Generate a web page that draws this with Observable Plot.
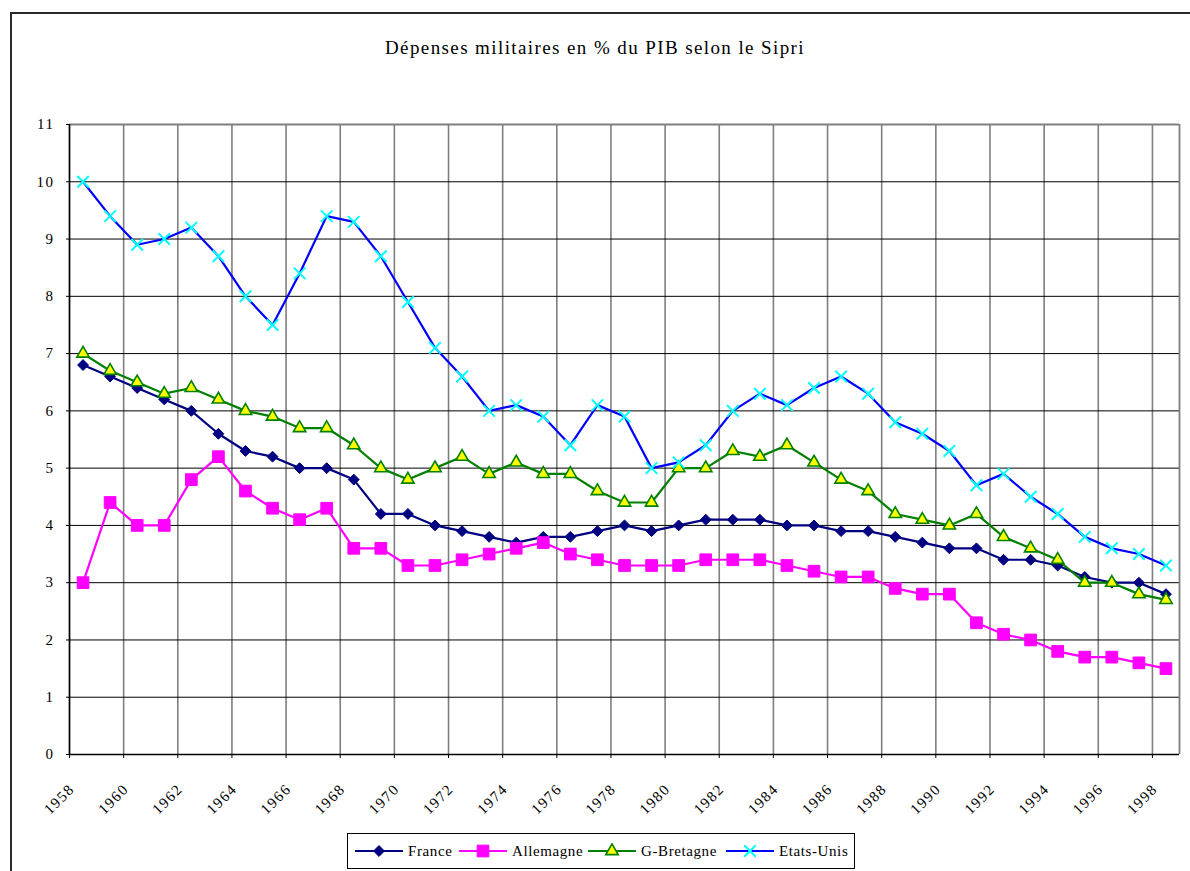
<!DOCTYPE html>
<html>
<head>
<meta charset="utf-8">
<script src="https://cdn.jsdelivr.net/npm/d3@7"></script>
<script src="https://cdn.jsdelivr.net/npm/@observablehq/plot@0.6"></script>
<style>
  html, body { margin: 0; padding: 0; background: #fff; overflow: hidden; }
  #page { position: relative; width: 1190px; height: 871px; overflow: hidden; font-family: "Liberation Serif", "DejaVu Serif", "Times New Roman", Times, serif; }
  #frame { position: absolute; left: 10px; top: 12px; width: 1300px; height: 1000px; border: 2px solid #2a2a2a; box-sizing: border-box; }
  #title { position: absolute; left: 0; width: 1190px; top: 37px; text-align: center; font-size: 19px; letter-spacing: 1.4px; color: #000; }
  #chart { position: absolute; left: 0; top: 0; }
  #legend { position: absolute; left: 347px; top: 833px; width: 508px; height: 36px; border: 1px solid #000; box-sizing: border-box; background: #fff; }
  .item { position: absolute; top: 0; height: 34px; display: flex; align-items: center; font-size: 15px; letter-spacing: 0.6px; color: #000; }
  .item svg { margin-right: 4px; }
</style>
</head>
<body>
<div id="page">
  <div id="frame"></div>
  <div id="title">Dépenses militaires en % du PIB selon le Sipri</div>
  <div id="chart"></div>
  <div id="legend"></div>
</div>
<script>
// ---- data ----
const years = [1958,1959,1960,1961,1962,1963,1964,1965,1966,1967,1968,1969,1970,1971,1972,1973,1974,1975,1976,1977,1978,1979,1980,1981,1982,1983,1984,1985,1986,1987,1988,1989,1990,1991,1992,1993,1994,1995,1996,1997,1998];
const france    = [6.8,6.6,6.4,6.2,6.0,5.6,5.3,5.2,5.0,5.0,4.8,4.2,4.2,4.0,3.9,3.8,3.7,3.8,3.8,3.9,4.0,3.9,4.0,4.1,4.1,4.1,4.0,4.0,3.9,3.9,3.8,3.7,3.6,3.6,3.4,3.4,3.3,3.1,3.0,3.0,2.8];
const allemagne = [3.0,4.4,4.0,4.0,4.8,5.2,4.6,4.3,4.1,4.3,3.6,3.6,3.3,3.3,3.4,3.5,3.6,3.7,3.5,3.4,3.3,3.3,3.3,3.4,3.4,3.4,3.3,3.2,3.1,3.1,2.9,2.8,2.8,2.3,2.1,2.0,1.8,1.7,1.7,1.6,1.5];
const gbretagne = [7.0,6.7,6.5,6.3,6.4,6.2,6.0,5.9,5.7,5.7,5.4,5.0,4.8,5.0,5.2,4.9,5.1,4.9,4.9,4.6,4.4,4.4,5.0,5.0,5.3,5.2,5.4,5.1,4.8,4.6,4.2,4.1,4.0,4.2,3.8,3.6,3.4,3.0,3.0,2.8,2.7];
const etatsUnis = [10.0,9.4,8.9,9.0,9.2,8.7,8.0,7.5,8.4,9.4,9.3,8.7,7.9,7.1,6.6,6.0,6.1,5.9,5.4,6.1,5.9,5.0,5.1,5.4,6.0,6.3,6.1,6.4,6.6,6.3,5.8,5.6,5.3,4.7,4.9,4.5,4.2,3.8,3.6,3.5,3.3];
const seriesNames = ["France", "Allemagne", "G-Bretagne", "Etats-Unis"];
const yTicks = [0,1,2,3,4,5,6,7,8,9,10,11];
const xLabelYears = [1958,1960,1962,1964,1966,1968,1970,1972,1974,1976,1978,1980,1982,1984,1986,1988,1990,1992,1994,1996,1998];

// ---- styles ----
const styles = {
  "France":     {line: "#000080", symbol: "diamond2", r: 4.9, fill: "#000080", stroke: "#000080", sw: 1},
  "Allemagne":  {line: "#FF00FF", symbol: "square",   r: 6.6, fill: "#FF00FF", stroke: "#FF00FF", sw: 1},
  "G-Bretagne": {line: "#008000", symbol: "triangle", r: 4.6, fill: "#FFFF00", stroke: "#008000", sw: 1.6},
  "Etats-Unis": {line: "#0000FF", symbol: "times",    r: 5.3, fill: "none",   stroke: "#00FFFF", sw: 2}
};
const values = {"France": france, "Allemagne": allemagne, "G-Bretagne": gbretagne, "Etats-Unis": etatsUnis};
const rows = seriesNames.flatMap(s => years.map((yr, i) => ({serie: s, year: yr, value: values[s][i]})));

// category boundaries every two years
const first = years[0] - 0.5, last = years[years.length - 1] + 0.5;
const boundaries = d3.range(first, last, 2);

const seriesMarks = seriesNames.flatMap(s => {
  const st = styles[s];
  const d = rows.filter(r => r.serie === s);
  return [
    Plot.line(d, {x: "year", y: "value", stroke: st.line, strokeWidth: 2.2}),
    Plot.dot(d, {x: "year", y: "value", symbol: st.symbol, r: st.r, fill: st.fill, stroke: st.stroke, strokeWidth: st.sw})
  ];
});

const FONT = "'Liberation Serif', 'DejaVu Serif', 'Times New Roman', serif";
const chart = Plot.plot({
  width: 1190,
  height: 830,
  marginLeft: 69,
  marginRight: 11,
  marginTop: 124,
  marginBottom: 76,
  style: {fontFamily: FONT, background: "transparent", overflow: "visible", color: "#000"},
  x: {domain: [first, last]},
  y: {domain: [0, 11]},
  marks: [
    Plot.gridX(boundaries, {stroke: "#7f7f7f", strokeOpacity: 1, strokeWidth: 1.6}),
    Plot.gridY(yTicks.filter(v => v > 0 && v < 11), {stroke: "#000", strokeOpacity: 1, strokeWidth: 1}),
    Plot.ruleY([11], {stroke: "#7f7f7f", strokeWidth: 1.8}),
    Plot.ruleX([last], {stroke: "#7f7f7f", strokeWidth: 1.8}),
    Plot.axisY({ticks: yTicks, tickSize: 3, tickPadding: 12, fontSize: 15, label: null}),
    Plot.axisX({ticks: boundaries, tickSize: 4, tickFormat: () => "", label: null}),
    Plot.axisX({ticks: xLabelYears, tickSize: 0, tickPadding: 24, tickRotate: -45, textAnchor: "end", lineAnchor: "middle", dx: -11, dy: 8, fontSize: 15, tickFormat: d => String(d), label: null}),
    Plot.ruleX([first], {stroke: "#000", strokeWidth: 1.5}),
    Plot.ruleY([0], {stroke: "#000", strokeWidth: 1.5}),
    ...seriesMarks
  ]
});
chart.querySelectorAll('[aria-label="x-axis tick label"] text, [aria-label="y-axis tick label"] text').forEach(t => t.style.letterSpacing = "1.5px");
chart.querySelectorAll("text").forEach(t => t.style.fontFamily = FONT);
document.getElementById("chart").appendChild(chart);

// ---- legend ----
const legend = document.getElementById("legend");
const legendLeft = {"France": 6, "Allemagne": 110, "G-Bretagne": 239, "Etats-Unis": 377};
seriesNames.forEach(s => {
  const st = styles[s];
  const item = document.createElement("div");
  item.className = "item";
  item.style.left = legendLeft[s] + "px";
  const sym = d3.symbol().type({
    diamond2: d3.symbolDiamond2, square: d3.symbolSquare, triangle: d3.symbolTriangle, times: d3.symbolTimes
  }[st.symbol]).size(Math.PI * st.r * st.r)();
  item.innerHTML = `<svg width="50" height="16" viewBox="0 0 50 16">
    <line x1="1" x2="49" y1="8" y2="8" stroke="${st.line}" stroke-width="2"/>
    <path transform="translate(25,8)" d="${sym}" fill="${st.fill}" stroke="${st.stroke}" stroke-width="${st.sw}"/>
  </svg><span>${s}</span>`;
  legend.appendChild(item);
});
</script>
</body>
</html>
